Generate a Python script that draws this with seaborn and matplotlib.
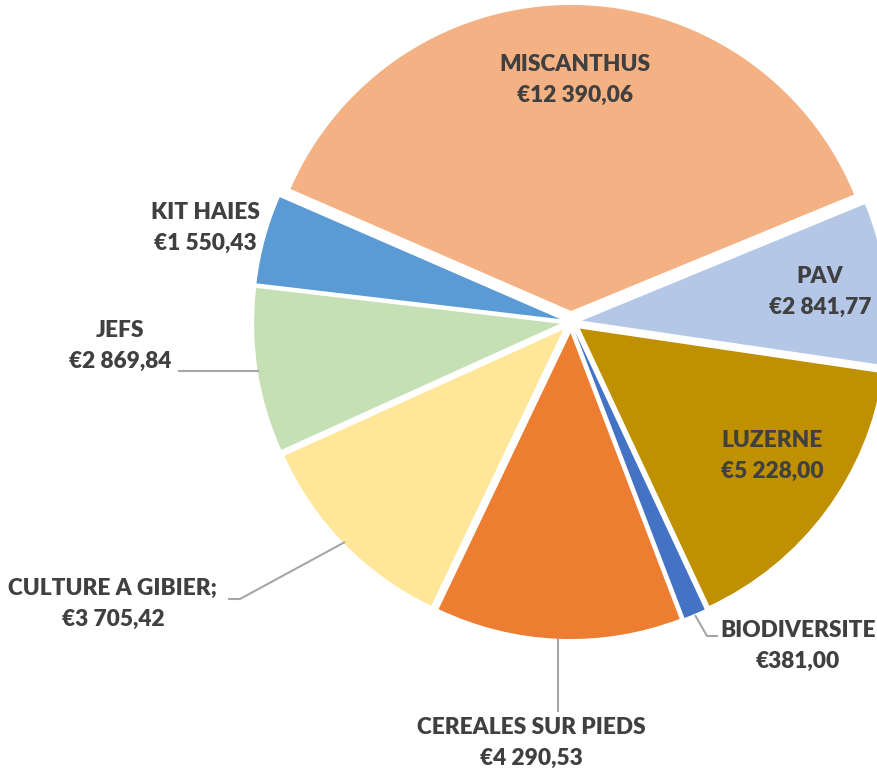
import matplotlib
matplotlib.use("Agg")
import matplotlib.pyplot as plt
import seaborn as sns

# ---- data ----
categories = ["MISCANTHUS", "PAV", "LUZERNE", "BIODIVERSITE", "CEREALES SUR PIEDS",
              "CULTURE A GIBIER;", "JEFS", "KIT HAIES"]
values = [12390.06, 2841.77, 5228.00, 381.00, 4290.53, 3705.42, 2869.84, 1550.43]
value_labels = ["€12 390,06", "€2 841,77", "€5 228,00", "€381,00", "€4 290,53",
                "€3 705,42", "€2 869,84", "€1 550,43"]
colors = ["#F4B183", "#B4C7E7", "#BF9000", "#4472C4", "#ED7D31",
          "#FFE699", "#C5E0B4", "#5B9BD5"]

sns.set_theme(style="white")
plt.rcParams['font.family'] = ['Lato', 'DejaVu Sans']
palette = sns.color_palette(colors)

W, H = 877, 776
fig = plt.figure(figsize=(W / 100, H / 100), dpi=100)
ax = fig.add_axes([0, 0, 1, 1])

# pie geometry (in pixel-derived units, radius = 1)
cx, cy, R = 571, 322, 306

ax.pie(values, colors=palette, startangle=156.5, counterclock=False,
       explode=[0.036] * len(values), radius=1.0, center=(0, 0),
       wedgeprops=dict(linewidth=0))

ax.set_xlim(-cx / R, (W - cx) / R)
ax.set_ylim(-(H - cy) / R, cy / R)
ax.set_aspect('equal')
ax.axis('off')

def px(x, y):
    return ((x - cx) / R, (cy - y) / R)

txt = dict(fontsize=16.3, fontweight='heavy', color='#404040',
           ha='center', va='center', linespacing=1.6)

# label positions in pixels (center of two-line block)
label_pos = {
    "MISCANTHUS": (575, 80),
    "PAV": (820, 292),
    "LUZERNE": (772, 456),
    "BIODIVERSITE": (798, 646),
    "CEREALES SUR PIEDS": (531, 743),
    "CULTURE A GIBIER;": (113, 604),
    "JEFS": (120, 346),
    "KIT HAIES": (205, 228),
}
for cat, val in zip(categories, value_labels):
    x, y = label_pos[cat]
    ax.text(*px(x, y), f"{cat}\n{val}", **txt)

# leader lines
line_kw = dict(color='#A6A6A6', linewidth=1.5, solid_capstyle='butt')
leaders = [
    [(695, 615), (707, 636), (718, 636)],      # BIODIVERSITE
    [(558, 638), (558, 712)],                  # CEREALES
    [(345, 542), (240, 599), (228, 599)],      # CULTURE
    [(259, 371), (178, 371)],                  # JEFS
]
for pts in leaders:
    xs, ys = zip(*[px(a, b) for a, b in pts])
    ax.plot(xs, ys, **line_kw)

fig.savefig("out.png", dpi=100, facecolor='white')
